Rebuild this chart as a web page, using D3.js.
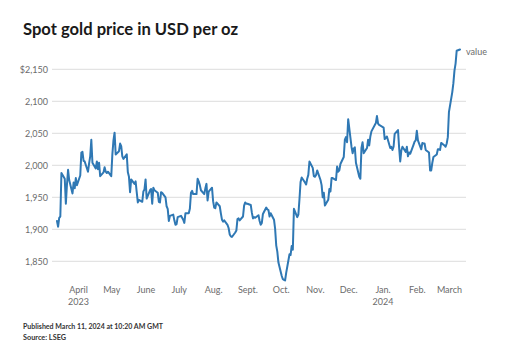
<!DOCTYPE html>
<html>
<head>
<meta charset="utf-8">
<script src="https://cdn.jsdelivr.net/npm/d3@7"></script>
<style>
  html, body { margin: 0; padding: 0; background: #fff; }
  svg { display: block; }
</style>
</head>
<body>
<svg id="chart" width="514" height="356"></svg>
<script>
// ---------- data ----------
const dates2023Mar = ["2023-03-13","2023-03-14","2023-03-15","2023-03-16","2023-03-17","2023-03-20","2023-03-21","2023-03-22","2023-03-23","2023-03-24","2023-03-27","2023-03-28","2023-03-29","2023-03-30","2023-03-31"];
const prices2023Mar = [1913,1904,1918,1920,1988,1979,1940,1970,1993,1977,1956,1973,1964,1980,1969];

const dates2023Apr = ["2023-04-03","2023-04-04","2023-04-05","2023-04-06","2023-04-07","2023-04-10","2023-04-11","2023-04-12","2023-04-13","2023-04-14","2023-04-17","2023-04-18","2023-04-19","2023-04-20","2023-04-21","2023-04-24","2023-04-25","2023-04-26","2023-04-27","2023-04-28"];
const prices2023Apr = [1984,2020,2021,2007,2006,1990,2003,2014,2040,2004,1995,2006,1994,2004,1983,1989,1997,1990,1988,1990];

const dates2023May = ["2023-05-01","2023-05-02","2023-05-03","2023-05-04","2023-05-05","2023-05-08","2023-05-09","2023-05-10","2023-05-11","2023-05-12","2023-05-15","2023-05-16","2023-05-17","2023-05-18","2023-05-19","2023-05-22","2023-05-23","2023-05-24","2023-05-25","2023-05-26","2023-05-29","2023-05-30","2023-05-31"];
const prices2023May = [1983,2017,2039,2051,2017,2022,2034,2030,2014,2010,2017,1989,1982,1958,1978,1971,1975,1958,1942,1946,1943,1959,1962];

const dates2023Jun = ["2023-06-01","2023-06-02","2023-06-05","2023-06-06","2023-06-07","2023-06-08","2023-06-09","2023-06-12","2023-06-13","2023-06-14","2023-06-15","2023-06-16","2023-06-19","2023-06-20","2023-06-21","2023-06-22","2023-06-23","2023-06-26","2023-06-27","2023-06-28","2023-06-29","2023-06-30"];
const prices2023Jun = [1978,1948,1961,1963,1940,1965,1961,1957,1943,1942,1958,1957,1950,1936,1932,1913,1921,1923,1914,1907,1908,1919];

const dates2023Jul = ["2023-07-03","2023-07-05","2023-07-06","2023-07-07","2023-07-10","2023-07-11","2023-07-12","2023-07-13","2023-07-14","2023-07-17","2023-07-18","2023-07-19","2023-07-20","2023-07-21","2023-07-24","2023-07-25","2023-07-26","2023-07-27","2023-07-28","2023-07-31"];
const prices2023Jul = [1921,1915,1910,1925,1925,1932,1957,1960,1955,1955,1979,1975,1969,1961,1955,1964,1971,1945,1959,1965];

const dates2023Aug = ["2023-08-01","2023-08-02","2023-08-03","2023-08-04","2023-08-07","2023-08-08","2023-08-09","2023-08-10","2023-08-11","2023-08-14","2023-08-15","2023-08-16","2023-08-17","2023-08-18","2023-08-21","2023-08-22","2023-08-23","2023-08-24","2023-08-25","2023-08-28","2023-08-29","2023-08-30","2023-08-31"];
const prices2023Aug = [1944,1934,1933,1942,1936,1925,1915,1912,1914,1907,1902,1892,1889,1888,1895,1898,1916,1917,1914,1920,1937,1942,1940];

const dates2023Sep = ["2023-09-01","2023-09-04","2023-09-05","2023-09-06","2023-09-07","2023-09-08","2023-09-11","2023-09-12","2023-09-13","2023-09-14","2023-09-15","2023-09-18","2023-09-19","2023-09-20","2023-09-21","2023-09-22","2023-09-25","2023-09-26","2023-09-27","2023-09-28","2023-09-29"];
const prices2023Sep = [1940,1938,1926,1917,1919,1918,1922,1913,1907,1910,1924,1934,1931,1930,1920,1925,1915,1901,1875,1865,1848];

const dates2023Oct = ["2023-10-02","2023-10-03","2023-10-04","2023-10-05","2023-10-06","2023-10-09","2023-10-10","2023-10-11","2023-10-12","2023-10-13","2023-10-16","2023-10-17","2023-10-18","2023-10-19","2023-10-20","2023-10-23","2023-10-24","2023-10-25","2023-10-26","2023-10-27","2023-10-30","2023-10-31"];
const prices2023Oct = [1827,1822,1821,1820,1832,1861,1860,1874,1868,1932,1919,1923,1947,1974,1981,1973,1970,1979,1985,2006,1996,1983];

const dates2023Nov = ["2023-11-01","2023-11-02","2023-11-03","2023-11-06","2023-11-07","2023-11-08","2023-11-09","2023-11-10","2023-11-13","2023-11-14","2023-11-15","2023-11-16","2023-11-17","2023-11-20","2023-11-21","2023-11-22","2023-11-23","2023-11-24","2023-11-27","2023-11-28","2023-11-29","2023-11-30"];
const prices2023Nov = [1982,1985,1992,1977,1969,1950,1957,1937,1946,1963,1959,1980,1980,1977,1998,1990,1992,2002,2013,2040,2044,2036];

const dates2023Dec = ["2023-12-01","2023-12-04","2023-12-05","2023-12-06","2023-12-07","2023-12-08","2023-12-11","2023-12-12","2023-12-13","2023-12-14","2023-12-15","2023-12-18","2023-12-19","2023-12-20","2023-12-21","2023-12-22","2023-12-26","2023-12-27","2023-12-28","2023-12-29"];
const prices2023Dec = [2072,2029,2019,2026,2028,2004,1982,1979,2027,2036,2019,2027,2040,2031,2045,2053,2066,2077,2065,2063];

const dates2024Jan = ["2024-01-02","2024-01-03","2024-01-04","2024-01-05","2024-01-08","2024-01-09","2024-01-10","2024-01-11","2024-01-12","2024-01-15","2024-01-16","2024-01-17","2024-01-18","2024-01-19","2024-01-22","2024-01-23","2024-01-24","2024-01-25","2024-01-26","2024-01-29","2024-01-30","2024-01-31"];
const prices2024Jan = [2059,2041,2043,2045,2027,2029,2024,2029,2049,2055,2028,2006,2023,2029,2021,2029,2014,2020,2018,2032,2037,2039];

const dates2024Feb = ["2024-02-01","2024-02-02","2024-02-05","2024-02-06","2024-02-07","2024-02-08","2024-02-09","2024-02-12","2024-02-13","2024-02-14","2024-02-15","2024-02-16","2024-02-19","2024-02-20","2024-02-21","2024-02-22","2024-02-23","2024-02-26","2024-02-27","2024-02-28","2024-02-29"];
const prices2024Feb = [2054,2039,2025,2035,2034,2034,2024,2020,1992,1992,2004,2013,2017,2025,2025,2024,2035,2031,2029,2034,2044];

const dates2024Mar = ["2024-03-01","2024-03-04","2024-03-05","2024-03-06","2024-03-07","2024-03-08","2024-03-11"];
const prices2024Mar = [2083,2114,2128,2148,2159,2179,2181];

const yTicks = [1850, 1900, 1950, 2000, 2050, 2100, 2150];
const xTickDates = ["2023-04-01","2023-05-01","2023-06-01","2023-07-01","2023-08-01","2023-09-01","2023-10-01","2023-11-01","2023-12-01","2024-01-01","2024-02-01","2024-03-01"];
const xTickLabels = [["April","2023"],["May"],["June"],["July"],["Aug."],["Sept."],["Oct."],["Nov."],["Dec."],["Jan.","2024"],["Feb."],["March"]];

const titleText = "Spot gold price in USD per oz";
const publishedText = "Published March 11, 2024 at 10:20 AM GMT";
const sourceText = "Source: LSEG";
const seriesName = "value";

// ---------- build ----------
const parse = d3.utcParse("%Y-%m-%d");
const allDates = [].concat(dates2023Mar, dates2023Apr, dates2023May, dates2023Jun, dates2023Jul, dates2023Aug, dates2023Sep, dates2023Oct, dates2023Nov, dates2023Dec, dates2024Jan, dates2024Feb, dates2024Mar);
const allPrices = [].concat(prices2023Mar, prices2023Apr, prices2023May, prices2023Jun, prices2023Jul, prices2023Aug, prices2023Sep, prices2023Oct, prices2023Nov, prices2023Dec, prices2024Jan, prices2024Feb, prices2024Mar);
const data = allDates.map((d, i) => ({ date: parse(d), value: allPrices[i] }));

const svg = d3.select("#chart");
const font = "Lato, 'Open Sans', sans-serif";

const x = d3.scaleUtc()
  .domain(d3.extent(data, d => d.date))
  .range([57, 460]);
const y = d3.scaleLinear()
  .domain([1850, 2150])
  .range([261.3, 69.3]);

function fitText(sel, w) {
  const n = sel.node();
  const len = n.getComputedTextLength();
  if (len > 0) sel.attr("textLength", w).attr("lengthAdjust", "spacingAndGlyphs");
}

// title
svg.append("text")
  .attr("x", 23).attr("y", 35)
  .attr("font-family", font).attr("font-weight", 700)
  .attr("font-size", 17.5).attr("fill", "#1a1a1a")
  .text(titleText)
  .call(fitText, 215);

// gridlines + y labels
const yAxis = d3.axisLeft(y)
  .tickValues(yTicks)
  .tickSize(0)
  .tickPadding(0)
  .tickFormat(d => (d === 2150 ? "$" : "") + d3.format(",")(d));

const gy = svg.append("g").attr("transform", "translate(48,0)").call(yAxis);
gy.select(".domain").remove();
gy.selectAll("text")
  .attr("font-family", font).attr("font-size", 9)
  .attr("fill", "#6b6b6b").attr("dy", "0.34em").attr("x", 0);

svg.append("g").selectAll("line")
  .data(yTicks).join("line")
  .attr("x1", 52).attr("x2", 466)
  .attr("y1", d => y(d)).attr("y2", d => y(d))
  .attr("stroke", "#dcdcdc").attr("stroke-width", 1);

// x axis labels
const xAxis = d3.axisBottom(x)
  .tickValues(xTickDates.map(parse))
  .tickSize(0)
  .tickFormat("");
const gx = svg.append("g").attr("transform", "translate(0,284)").call(xAxis);
gx.select(".domain").remove();
gx.selectAll(".tick").each(function(d, i) {
  const t = d3.select(this).append("text")
    .attr("font-family", font).attr("font-size", 9)
    .attr("fill", "#6b6b6b").attr("text-anchor", "middle")
    .attr("y", 9);
  xTickLabels[i].forEach((s, j) => {
    t.append("tspan").attr("x", 0).attr("y", 9 + j * 11.8).text(s);
  });
});

// line
const line = d3.line()
  .x(d => x(d.date))
  .y(d => y(d.value))
  .curve(d3.curveLinear);

svg.append("path")
  .datum(data)
  .attr("d", line)
  .attr("fill", "none")
  .attr("stroke", "#2f78b4")
  .attr("stroke-width", 2)
  .attr("stroke-linejoin", "round")
  .attr("stroke-linecap", "round");

// series label
const last = data[data.length - 1];
svg.append("text")
  .attr("x", x(last.date) + 6).attr("y", y(last.value) + 6)
  .attr("font-family", font).attr("font-size", 9)
  .attr("fill", "#6b6b6b")
  .text(seriesName);

// footer
svg.append("text")
  .attr("x", 23).attr("y", 328.7)
  .attr("font-family", font).attr("font-weight", 700)
  .attr("font-size", 8).attr("fill", "#333")
  .text(publishedText)
  .call(fitText, 140);
svg.append("text")
  .attr("x", 23).attr("y", 340)
  .attr("font-family", font).attr("font-weight", 700)
  .attr("font-size", 8).attr("fill", "#333")
  .text(sourceText)
  .call(fitText, 43);
</script>
</body>
</html>
